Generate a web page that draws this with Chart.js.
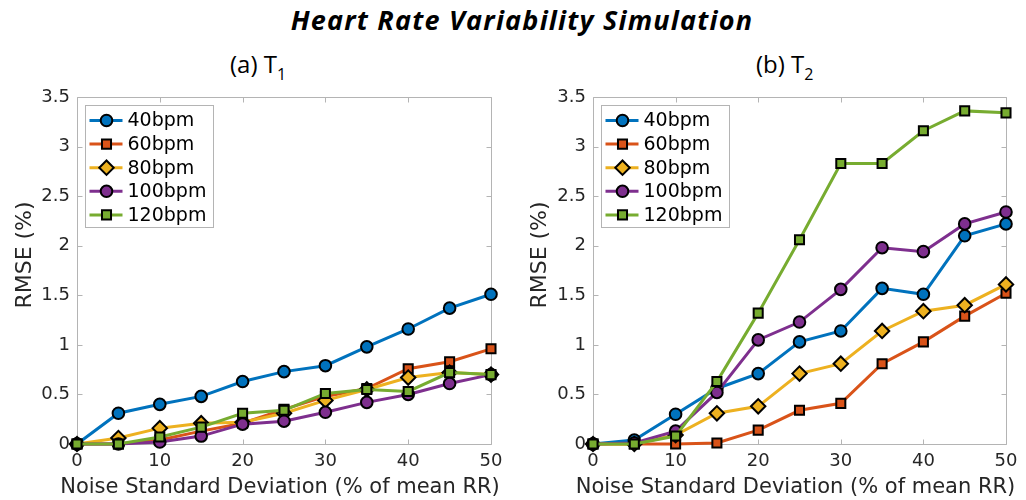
<!DOCTYPE html>
<html><head><meta charset="utf-8">
<script src="https://cdn.jsdelivr.net/npm/chart.js@4.4.0/dist/chart.umd.min.js"></script>
<style>
body{margin:0;background:#fff;width:1026px;height:500px;overflow:hidden;position:relative}
#title{position:absolute;left:0;width:1044px;top:2px;text-align:center;font:italic 700 27px "Open Sans",Lato,sans-serif;letter-spacing:1.2px;color:#000;line-height:36px;white-space:nowrap}
.sub{position:absolute;top:47px;font:400 24px "Open Sans",Lato,sans-serif;color:#000;line-height:34px;white-space:nowrap}
.sub sub{font-size:16px;vertical-align:-7px;line-height:0}
.wrap{position:absolute;top:0;width:513px;height:500px}
</style></head><body>
<div id="title">Heart Rate Variability Simulation</div>
<div class="sub" style="left:230px">(a) T<sub>1</sub></div>
<div class="sub" style="left:756px">(b) T<sub>2</sub></div>
<div class="wrap" style="left:0"><canvas id="c1" width="513" height="500"></canvas></div>
<div class="wrap" style="left:513px"><canvas id="c2" width="513" height="500"></canvas></div>
<script>
// ---- data ----
const noiseSD = [0, 5, 10, 15, 20, 25, 30, 35, 40, 45, 50];
const seriesNames = ['40bpm', '60bpm', '80bpm', '100bpm', '120bpm'];
const xTickLabels = ['0', '10', '20', '30', '40', '50'];
const yTickLabels = ['0', '0.5', '1', '1.5', '2', '2.5', '3', '3.5'];

// (a) T1
const t1_40bpm  = [0, 0.31, 0.40, 0.48, 0.63, 0.73, 0.79, 0.98, 1.16, 1.37, 1.51];
const t1_60bpm  = [0, 0.00, 0.04, 0.13, 0.21, 0.35, 0.48, 0.56, 0.76, 0.83, 0.96];
const t1_80bpm  = [0, 0.06, 0.16, 0.21, 0.22, 0.31, 0.44, 0.55, 0.67, 0.72, 0.70];
const t1_100bpm = [0, 0.00, 0.02, 0.08, 0.20, 0.23, 0.32, 0.42, 0.50, 0.61, 0.70];
const t1_120bpm = [0, 0.00, 0.07, 0.17, 0.31, 0.34, 0.51, 0.55, 0.53, 0.72, 0.70];

// (b) T2
const t2_40bpm  = [0, 0.04, 0.30, 0.56, 0.71, 1.03, 1.14, 1.57, 1.51, 2.10, 2.22];
const t2_60bpm  = [0, 0.00, 0.00, 0.01, 0.14, 0.34, 0.41, 0.81, 1.03, 1.29, 1.52];
const t2_80bpm  = [0, 0.00, 0.09, 0.31, 0.38, 0.71, 0.81, 1.14, 1.34, 1.40, 1.61];
const t2_100bpm = [0, 0.01, 0.13, 0.52, 1.05, 1.23, 1.56, 1.98, 1.94, 2.22, 2.34];
const t2_120bpm = [0, 0.00, 0.08, 0.63, 1.32, 2.06, 2.83, 2.83, 3.16, 3.36, 3.34];

// ---- styles ----
const colors = ['#0072BD', '#D95319', '#EDB120', '#7E2F8E', '#77AC30'];
const markers = ['circle', 'rect', 'rectRot', 'circle', 'rect'];
const markerRadius = [5.8, 6.4, 7.2, 5.8, 6.4];
const FONT = '"DejaVu Sans",sans-serif';
const AXIS_GREY = '#b4b4b4';
const TEXT_COL = '#262626';

function makeDatasets(seriesArrays) {
  return seriesArrays.map((vals, i) => ({
    label: seriesNames[i],
    data: noiseSD.map((x, j) => ({x: x, y: vals[j]})),
    borderColor: colors[i],
    borderWidth: 3,
    pointStyle: markers[i],
    pointRadius: markerRadius[i],
    pointBackgroundColor: colors[i],
    pointBorderColor: '#000',
    pointBorderWidth: 2,
    tension: 0,
    fill: false,
    clip: false,
    order: seriesArrays.length - 1 - i
  }));
}

const boxPlugin = {
  id: 'matlabBox',
  beforeDatasetsDraw(chart) {
    const ctx = chart.ctx, a = chart.chartArea;
    const xs = chart.scales.x, ys = chart.scales.y;
    const o = chart.options.plugins.matlabBox;
    ctx.save();
    ctx.strokeStyle = AXIS_GREY;
    ctx.lineWidth = 1;
    const L = Math.round(a.left) + 0.5, R = Math.round(a.right) + 0.5;
    const T = Math.round(a.top) + 0.5, B = Math.round(a.bottom) + 0.5;
    ctx.beginPath();
    ctx.rect(L, T, R - L, B - T);
    ctx.stroke();
    const tl = 5;
    ctx.beginPath();
    xs.ticks.forEach(t => {
      const px = Math.round(xs.getPixelForValue(t.value)) + 0.5;
      ctx.moveTo(px, B); ctx.lineTo(px, B - tl);
      ctx.moveTo(px, T); ctx.lineTo(px, T + tl);
    });
    ys.ticks.forEach(t => {
      const py = Math.round(ys.getPixelForValue(t.value)) + 0.5;
      ctx.moveTo(L, py); ctx.lineTo(L + tl, py);
      ctx.moveTo(R, py); ctx.lineTo(R - tl, py);
    });
    ctx.stroke();
    // x axis title
    ctx.fillStyle = TEXT_COL;
    ctx.font = '21px ' + FONT;
    ctx.textAlign = 'center';
    ctx.textBaseline = 'middle';
    ctx.fillText('Noise Standard Deviation (% of mean RR)', (a.left + a.right) / 2 - 4, 488);
    // y axis title
    ctx.translate(o.yTitleX, o.yTitleY);
    ctx.rotate(-Math.PI / 2);
    ctx.font = '22px ' + FONT;
    ctx.fillText('RMSE (%)', 0, 0);
    ctx.restore();
  },
  afterDatasetsDraw(chart) {
    const ctx = chart.ctx, a = chart.chartArea;
    const bx = Math.round(a.left) + 8.5, by = Math.round(a.top) + 8.5;
    const bw = chart.options.plugins.matlabBox.legendWidth, bh = 122;
    ctx.save();
    ctx.fillStyle = '#fff';
    ctx.fillRect(bx, by, bw, bh);
    ctx.strokeStyle = AXIS_GREY;
    ctx.lineWidth = 1;
    ctx.strokeRect(bx, by, bw, bh);
    ctx.font = '19px ' + FONT;
    ctx.textBaseline = 'middle';
    ctx.textAlign = 'left';
    chart.data.datasets.forEach((ds, i) => {
      const y = by + 15 + i * 23.6;
      ctx.strokeStyle = ds.borderColor;
      ctx.lineWidth = 3;
      ctx.beginPath();
      ctx.moveTo(bx + 4, y); ctx.lineTo(bx + 37, y);
      ctx.stroke();
      ctx.fillStyle = ds.pointBackgroundColor;
      ctx.strokeStyle = '#000';
      ctx.lineWidth = 2;
      Chart.helpers.drawPoint(ctx, {pointStyle: ds.pointStyle, radius: ds.pointRadius, rotation: 0, borderWidth: 2}, bx + 21, y);
      ctx.fillStyle = '#000';
      ctx.fillText(ds.label, bx + 42, y + 1);
    });
    ctx.restore();
  }
};

function makeChart(id, seriesArrays, yAxisWidth, padRight, yTitleX, legendWidth) {
  return new Chart(document.getElementById(id), {
    type: 'line',
    data: {datasets: makeDatasets(seriesArrays)},
    plugins: [boxPlugin],
    options: {
      responsive: false,
      animation: false,
      layout: {padding: {top: 97, right: padRight, bottom: 0, left: 0}},
      plugins: {
        legend: {display: false},
        tooltip: {enabled: false},
        title: {display: false},
        matlabBox: {legendWidth: legendWidth, yTitleX: yTitleX, yTitleY: 255}
      },
      scales: {
        x: {
          type: 'linear', min: 0, max: 50,
          grid: {display: false, drawTicks: false},
          border: {display: false},
          afterBuildTicks(scale) {
            scale.ticks = xTickLabels.map(v => ({value: parseFloat(v)}));
          },
          afterFit(scale) { scale.height = 56; },
          ticks: {
            padding: 7, color: TEXT_COL, maxRotation: 0, autoSkip: false,
            font: {family: FONT, size: 18},
            callback: (v) => xTickLabels.find(s => parseFloat(s) === v) ?? ''
          },
          title: {display: false}
        },
        y: {
          type: 'linear', min: 0, max: 3.5,
          grid: {display: false, drawTicks: false},
          border: {display: false},
          afterBuildTicks(scale) {
            scale.ticks = yTickLabels.map(v => ({value: parseFloat(v)}));
          },
          afterFit(scale) { scale.width = yAxisWidth; },
          ticks: {
            padding: 7, color: TEXT_COL, autoSkip: false,
            font: {family: FONT, size: 18},
            callback: (v) => yTickLabels.find(s => parseFloat(s) === v) ?? ''
          },
          title: {display: false}
        }
      }
    }
  });
}

makeChart('c1', [t1_40bpm, t1_60bpm, t1_80bpm, t1_100bpm, t1_120bpm], 77, 22, 25, 128);
makeChart('c2', [t2_40bpm, t2_60bpm, t2_80bpm, t2_100bpm, t2_120bpm], 80, 20, 27, 128);
</script>
</body></html>
